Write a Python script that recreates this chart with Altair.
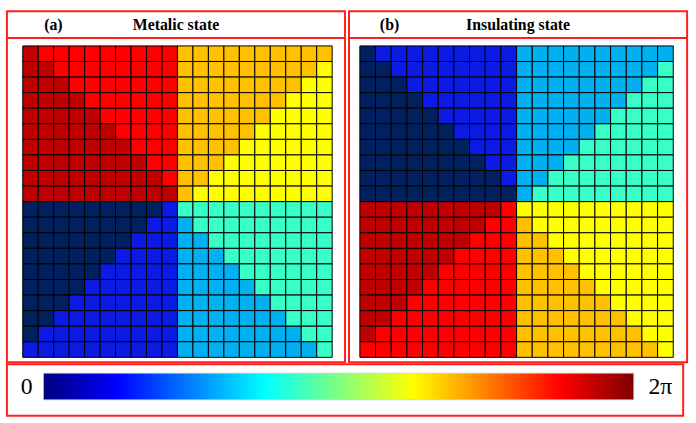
import altair as alt
import pandas as pd

# Phase sector of every cell (20 x 20), top row first.
# 0 navy, 1 blue, 2 light blue, 3 aqua, 4 yellow, 5 orange, 6 red, 7 dark red
metallic_rows = [
    "76666666665555555555",
    "77666666665555555554",
    "77766666665555555544",
    "77776666665555555444",
    "77777666665555554444",
    "77777766665555544444",
    "77777776665555444444",
    "77777777665554444444",
    "77777777765544444444",
    "77777777775444444444",
    "00000000013333333333",
    "00000000112333333333",
    "00000001112233333333",
    "00000011112223333333",
    "00000111112222333333",
    "00001111112222233333",
    "00011111112222223333",
    "00111111112222222333",
    "01111111112222222233",
    "11111111112222222223",
]

insulating_rows = [
    "01111111112222222222",
    "00111111112222222223",
    "00011111112222222233",
    "00001111112222222333",
    "00000111112222223333",
    "00000011112222233333",
    "00000001112222333333",
    "00000000112223333333",
    "00000000012233333333",
    "00000000002333333333",
    "77777777764444444444",
    "77777777665444444444",
    "77777776665544444444",
    "77777766665554444444",
    "77777666665555444444",
    "77776666665555544444",
    "77766666665555554444",
    "77666666665555555444",
    "76666666665555555544",
    "66666666665555555554",
]

sector_keys = ["0", "1", "2", "3", "4", "5", "6", "7"]
sector_colors = ["#002060", "#0b1be3", "#00b0f0", "#38ffc8",
                 "#ffff00", "#ffc000", "#ff0000", "#c00000"]

panel_tags = ["(a)", "(b)"]
panel_titles = ["Metalic state", "Insulating state"]

# Colour bar: jet colormap from 0 to 2π
bar_lo, bar_hi = 0.0, 6.2832
jet_offsets = [0.0, 0.125, 0.375, 0.625, 0.875, 1.0]
jet_colors = ["#00007f", "#0000ff", "#00ffff", "#ffff00", "#ff0000", "#7f0000"]
bar_labels = ["0", "2π"]

RED = "#ff1f1f"
SERIF = "Liberation Serif, Times New Roman, DejaVu Serif, serif"
PANEL_W, PANEL_H = 342, 355
BAR_H = 52
N = 20


def grid_frame(rows):
    recs = []
    for r, line in enumerate(rows):
        for c, ch in enumerate(line):
            recs.append({"col": c, "row": r, "sector": ch})
    return pd.DataFrame(recs)


def panel(rows, tag, title, x_range, tag_x):
    df = grid_frame(rows)
    cells = (
        alt.Chart(df)
        .transform_calculate(col_end="datum.col + 1", row_end="datum.row + 1")
        .mark_rect(stroke="black", strokeWidth=1)
        .encode(
            x=alt.X("col:Q", scale=alt.Scale(domain=[0, N], range=x_range, nice=False, zero=False), axis=None),
            x2="col_end:Q",
            y=alt.Y("row:Q", scale=alt.Scale(domain=[0, N], range=[35, 350], nice=False, zero=False), axis=None),
            y2="row_end:Q",
            color=alt.Color("sector:N", scale=alt.Scale(domain=sector_keys, range=sector_colors), legend=None),
        )
    )
    divider = alt.Chart(pd.DataFrame({"k": [0]})).mark_rule(color=RED, strokeWidth=2).encode(
        x=alt.value(0), x2=alt.value(PANEL_W), y=alt.value(27)
    )
    head = pd.DataFrame({"tag": [tag], "title": [title]})
    tag_text = alt.Chart(head).mark_text(
        font=SERIF, fontSize=16, fontWeight="bold", baseline="middle", align="center"
    ).encode(x=alt.value(tag_x), y=alt.value(14), text="tag:N")
    title_text = alt.Chart(head).mark_text(
        font=SERIF, fontSize=16, fontWeight="bold", baseline="middle", align="center"
    ).encode(x=alt.value(171), y=alt.value(14), text="title:N")
    return alt.layer(cells, divider, tag_text, title_text).properties(width=PANEL_W, height=PANEL_H)


panel_a = panel(metallic_rows, panel_tags[0], panel_titles[0], [16, 329], 47)
panel_b = panel(insulating_rows, panel_tags[1], panel_titles[1], [11, 328], 41)

jet = alt.LinearGradient(
    gradient="linear",
    stops=[alt.GradientStop(color=c, offset=o) for o, c in zip(jet_offsets, jet_colors)],
    x1=0, x2=1, y1=0, y2=0,
)
bar = alt.Chart(pd.DataFrame({"lo": [bar_lo], "hi": [bar_hi]})).mark_rect(
    fill=jet, stroke="#c8c8c8", strokeWidth=0.7
).encode(
    x=alt.X("lo:Q", scale=alt.Scale(domain=[bar_lo, bar_hi], range=[37, 634], nice=False, zero=False), axis=None),
    x2="hi:Q",
    y=alt.value(9),
    y2=alt.value(36),
)
lab = pd.DataFrame({"label": bar_labels})
lab_left = alt.Chart(lab.iloc[[0]]).mark_text(
    font=SERIF, fontSize=24, baseline="middle", align="center"
).encode(x=alt.value(20), y=alt.value(23), text="label:N")
lab_right = alt.Chart(lab.iloc[[1]]).mark_text(
    font=SERIF, fontSize=24, baseline="middle", align="center"
).encode(x=alt.value(661), y=alt.value(23), text="label:N")
colorbar = alt.layer(bar, lab_left, lab_right).properties(width=2 * PANEL_W, height=BAR_H)

chart = (
    alt.vconcat(alt.hconcat(panel_a, panel_b, spacing=0), colorbar, spacing=0)
    .properties(padding={"left": 5, "top": 8, "right": 7, "bottom": 8}, background="white")
    .configure_view(stroke=RED, strokeWidth=2)
)

chart.save("out.html", embed_options={"renderer": "svg", "actions": False})
